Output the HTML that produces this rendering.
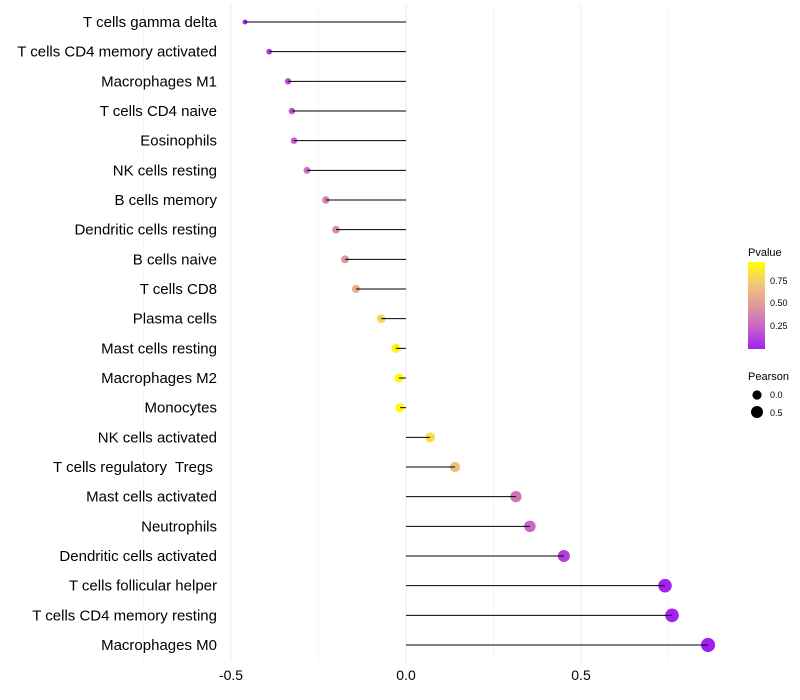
<!DOCTYPE html>
<html><head><meta charset="utf-8"><style>
body{margin:0;background:#fff}
svg{display:block;font-family:"Liberation Sans",sans-serif}
</style></head><body>
<svg id="chart" width="800" height="700">
<defs><linearGradient id="pg" x1="0" y1="1" x2="0" y2="0">
<stop offset="0" stop-color="#a020f0"/><stop offset="0.25" stop-color="#c865c8"/><stop offset="0.5" stop-color="#e0999a"/><stop offset="0.75" stop-color="#f2c77a"/><stop offset="1" stop-color="#ffff00"/></linearGradient></defs>
<g id="grid"></g><g id="dots"></g><g id="marks"></g><g id="labels"></g>
<g font-size="11">
<text x="748" y="256" font-size="11">Pvalue</text>
<rect x="748" y="262" width="17" height="87" fill="url(#pg)"/>
<text x="770" y="284" font-size="9">0.75</text><text x="770" y="306" font-size="9">0.50</text><text x="770" y="329" font-size="9">0.25</text>
<text x="748" y="380" font-size="11">Pearson</text>
<circle cx="757" cy="395" r="4.6" fill="#000"/>
<circle cx="757" cy="412" r="6" fill="#000"/>
<text x="770" y="398" font-size="9">0.0</text><text x="770" y="416" font-size="9">0.5</text>
</g>
</svg>
<script>
const cells=["T cells gamma delta","T cells CD4 memory activated","Macrophages M1","T cells CD4 naive","Eosinophils","NK cells resting","B cells memory","Dendritic cells resting","B cells naive","T cells CD8","Plasma cells","Mast cells resting","Macrophages M2","Monocytes","NK cells activated","T cells regulatory  Tregs ","Mast cells activated","Neutrophils","Dendritic cells activated","T cells follicular helper","T cells CD4 memory resting","Macrophages M0"];
const pearson=[-0.46,-0.391,-0.337,-0.326,-0.32,-0.283,-0.229,-0.2,-0.174,-0.143,-0.071,-0.029,-0.02,-0.017,0.069,0.14,0.314,0.354,0.451,0.74,0.76,0.863];
const pvalue=[0.03,0.1,0.15,0.2,0.22,0.3,0.38,0.42,0.47,0.6,0.8,0.92,0.95,0.95,0.82,0.68,0.32,0.25,0.12,0.02,0.02,0.01];
const ticks=[-0.5,0,0.5];
const tickLabels=["-0.5","0.0","0.5"];
const ns="http://www.w3.org/2000/svg";
const x=v=>406+v*350;
const y=i=>22+i*(623/21);
const pmin=Math.min(...pearson),pmax=Math.max(...pearson);
const r=v=>Math.sqrt(6+(v-pmin)/(pmax-pmin)*44);
const stops=[[0,[160,32,240]],[0.25,[200,101,200]],[0.5,[224,153,154]],[0.75,[242,199,122]],[1,[255,255,0]]];
function col(p){p=Math.max(0,Math.min(1,(p-0.01)/0.96));for(let k=1;k<stops.length;k++){if(p<=stops[k][0]){const a=stops[k-1],b=stops[k],t=(p-a[0])/(b[0]-a[0]);return "rgb("+a[1].map((c,j)=>Math.round(c+(b[1][j]-c)*t)).join(",")+")";}}return "rgb(255,255,0)";}
function mk(tag,attrs,parent){const e=document.createElementNS(ns,tag);for(const k in attrs)e.setAttribute(k,attrs[k]);document.getElementById(parent).appendChild(e);return e;}
[-0.75,-0.25,0.25,0.75].forEach(v=>{const l=mk("line",{x1:x(v),x2:x(v),y1:5,y2:662,stroke:"#f0f0f0","stroke-width":0.6},"grid");

});
ticks.forEach((v,i)=>{const l=mk("line",{x1:x(v),x2:x(v),y1:5,y2:662,stroke:"#ebebeb","stroke-width":1},"grid");


const t=mk("text",{x:x(v),y:680,"text-anchor":"middle","font-size":14,fill:"#000"},"labels");t.textContent=tickLabels[i];

});
cells.forEach((c,i)=>{const t=mk("text",{x:217,y:y(i)+5,"text-anchor":"end","font-size":15,fill:"#000","xml:space":"preserve",style:"white-space:pre"},"labels");t.textContent=c;


const d=mk("circle",{cx:x(pearson[i]),cy:y(i),r:r(pearson[i]),fill:col(pvalue[i])},"dots");


const l=mk("line",{x1:x(0),x2:x(pearson[i]),y1:y(i),y2:y(i),stroke:"#000","stroke-width":1},"marks");

});
</script>
</body></html>
